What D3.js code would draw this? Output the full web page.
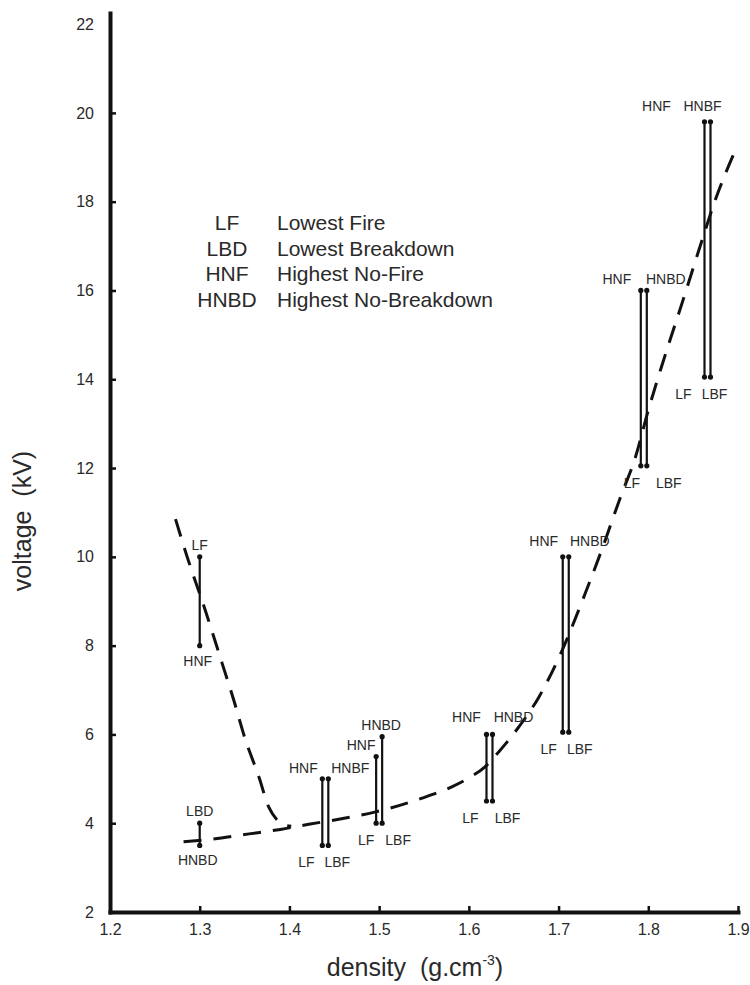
<!DOCTYPE html>
<html>
<head>
<meta charset="utf-8">
<script src="https://cdn.jsdelivr.net/npm/d3@7/dist/d3.min.js"></script>
<style>
  html, body { margin: 0; padding: 0; background: #fff; }
  svg { display: block; }
  text { font-family: "Liberation Sans", Arial, Helvetica, sans-serif; }
  .pre { white-space: pre; }
</style>
</head>
<body>
<svg id="chart" width="750" height="985"></svg>
<script>
// ---------------- data ----------------
const xTicks = [1.2, 1.3, 1.4, 1.5, 1.6, 1.7, 1.8, 1.9];
const yTicks = [2, 4, 6, 8, 10, 12, 14, 16, 18, 20, 22];

// single bars at density 1.3
const singleDensity = [1.3, 1.3];
const singleHigh = [10.0, 4.0];
const singleLow = [8.0, 3.5];
const singleTopLabel = ["LF", "LBD"];
const singleBottomLabel = ["HNF", "HNBD"];

// paired bars: left = fire (HNF / LF), right = breakdown
const pairDensity = [1.44, 1.5, 1.623, 1.708, 1.795, 1.866];
const fireHigh = [5.0, 5.5, 6.0, 10.0, 16.0, 19.8];
const fireLow = [3.5, 4.0, 4.5, 6.05, 12.05, 14.05];
const bdHigh = [5.0, 5.95, 6.0, 10.0, 16.0, 19.8];
const bdLow = [3.5, 4.0, 4.5, 6.05, 12.05, 14.05];
const fireHighLabel = ["HNF", "HNF", "HNF", "HNF", "HNF", "HNF"];
const bdHighLabel = ["HNBF", "HNBD", "HNBD", "HNBD", "HNBD", "HNBF"];
const fireLowLabel = ["LF", "LF", "LF", "LF", "LF", "LF"];
const bdLowLabel = ["LBF", "LBF", "LBF", "LBF", "LBF", "LBF"];

// dashed trend curves (density, voltage)
const steepDensity = [1.273, 1.286, 1.305, 1.325, 1.338, 1.35, 1.366, 1.377, 1.386, 1.394, 1.402];
const steepVoltage = [10.85, 10.0, 8.87, 7.6, 6.77, 5.94, 5.04, 4.36, 4.08, 3.96, 3.93];
const mainDensity = [1.282, 1.313, 1.355, 1.39, 1.42, 1.458, 1.495, 1.547, 1.581, 1.60, 1.618, 1.633, 1.655, 1.678, 1.703, 1.729, 1.748, 1.77, 1.785, 1.80, 1.815, 1.839, 1.861, 1.874, 1.898];
const mainVoltage = [3.58, 3.64, 3.76, 3.86, 3.97, 4.1, 4.25, 4.56, 4.82, 5.02, 5.27, 5.6, 6.15, 6.84, 7.85, 9.14, 10.15, 11.4, 12.2, 13.3, 14.3, 15.8, 17.2, 18.0, 19.2];

// legend
const legendCodes = ["LF", "LBD", "HNF", "HNBD"];
const legendNames = ["Lowest Fire", "Lowest Breakdown", "Highest No-Fire", "Highest No-Breakdown"];

// ---------------- layout (not data) ----------------
// label x offsets relative to bar centre: [topLeft, topRight, bottomLeft, bottomRight]
const pairLabelDx = [[-22, 25, -19, 12], [-18, 2, -13, 19], [-23, 24, -19, 18], [-22, 24, -17, 14], [-27, 22, -12, 25], [-51, -5, -24, 7]];
const pairTopDy = [-6, -7, -12, -11, -6, -11];

// ---------------- drawing ----------------
const svg = d3.select("#chart");
const x = d3.scaleLinear().domain([1.2, 1.9]).range([110, 738]);
const y = d3.scaleLinear().domain([2, 22.25]).range([912, 13]);
const ink = "#111";
const textCol = "#2a2a2a";

// axes
const yAxis = d3.axisLeft(y).tickValues(yTicks).tickSizeInner(-6).tickSizeOuter(0).tickPadding(16).tickFormat(d3.format("d"));
const gy = svg.append("g").attr("transform", "translate(110,0)").call(yAxis);
gy.select(".domain").attr("stroke", ink).attr("stroke-width", 4).attr("stroke-linecap", "square");
gy.selectAll(".tick line").attr("stroke", ink).attr("stroke-width", 2.5)
  .attr("display", d => (d === 2 || d === 22) ? "none" : null);
gy.selectAll(".tick text").attr("font-size", 16).attr("fill", textCol).attr("font-family", "Liberation Sans, Arial, sans-serif");

const xAxis = d3.axisBottom(x).tickValues(xTicks).tickSizeInner(-6).tickSizeOuter(0).tickPadding(12).tickFormat(d3.format(".1f"));
const gx = svg.append("g").attr("transform", "translate(0,912)").call(xAxis);
gx.select(".domain").attr("stroke", ink).attr("stroke-width", 4).attr("stroke-linecap", "square");
gx.selectAll(".tick line").attr("stroke", ink).attr("stroke-width", 2.5)
  .attr("display", d => d === 1.2 ? "none" : null);
gx.selectAll(".tick text").attr("font-size", 16).attr("fill", textCol).attr("font-family", "Liberation Sans, Arial, sans-serif");

// axis titles
svg.append("text").attr("class", "pre")
  .attr("transform", "translate(31,521) rotate(-90)")
  .attr("text-anchor", "middle")
  .attr("font-size", 25).attr("fill", textCol)
  .text("voltage  (kV)");

const xt = svg.append("text").attr("class", "pre")
  .attr("x", 415).attr("y", 976)
  .attr("text-anchor", "middle")
  .attr("font-size", 25).attr("fill", textCol);
xt.append("tspan").text("density  (g.cm");
xt.append("tspan").attr("font-size", 14).attr("dy", -11).text("-3");
xt.append("tspan").attr("dy", 11).text(")");

// dashed curves
const line = d3.line().x(d => x(d[0])).y(d => y(d[1])).curve(d3.curveMonotoneX);
const steep = steepDensity.map((d, i) => [d, steepVoltage[i]]);
const main = mainDensity.map((d, i) => [d, mainVoltage[i]]);
[steep, main].forEach(pts => {
  svg.append("path").datum(pts)
    .attr("d", line)
    .attr("fill", "none").attr("stroke", ink)
    .attr("stroke-width", 3).attr("stroke-dasharray", "18,12");
});

// helper to draw a vertical segment with end dots
function seg(g, px, v1, v2, w) {
  g.append("line").attr("x1", px).attr("x2", px).attr("y1", y(v1)).attr("y2", y(v2))
    .attr("stroke", ink).attr("stroke-width", w);
  [v1, v2].forEach(v => g.append("circle").attr("cx", px).attr("cy", y(v)).attr("r", 2.6).attr("fill", ink));
}
const labelG = svg.append("g").attr("font-size", 14).attr("fill", textCol).attr("text-anchor", "middle");
const barG = svg.append("g");

// single bars
singleDensity.forEach((d, i) => {
  const px = x(d);
  seg(barG, px, singleHigh[i], singleLow[i], 2.2);
  labelG.append("text").attr("x", px).attr("y", y(singleHigh[i]) - 7).text(singleTopLabel[i]);
  labelG.append("text").attr("x", px - 2).attr("y", y(singleLow[i]) + 20).text(singleBottomLabel[i]);
});

// paired bars
pairDensity.forEach((d, i) => {
  const c = x(d);
  seg(barG, c - 3, fireHigh[i], fireLow[i], 2.2);
  seg(barG, c + 3, bdHigh[i], bdLow[i], 2.2);
  const dx = pairLabelDx[i];
  labelG.append("text").attr("x", c + dx[0]).attr("y", y(fireHigh[i]) + pairTopDy[i]).text(fireHighLabel[i]);
  labelG.append("text").attr("x", c + dx[1]).attr("y", y(bdHigh[i]) + pairTopDy[i]).text(bdHighLabel[i]);
  labelG.append("text").attr("x", c + dx[2]).attr("y", y(fireLow[i]) + 22).text(fireLowLabel[i]);
  labelG.append("text").attr("x", c + dx[3]).attr("y", y(bdLow[i]) + 22).text(bdLowLabel[i]);
});

// legend
const lg = svg.append("g").attr("font-size", 21).attr("fill", textCol);
legendCodes.forEach((c, i) => {
  const by = 230 + i * 25.7;
  lg.append("text").attr("x", 227).attr("y", by).attr("text-anchor", "middle").text(c);
  lg.append("text").attr("x", 277).attr("y", by).text(legendNames[i]);
});
</script>
</body>
</html>
